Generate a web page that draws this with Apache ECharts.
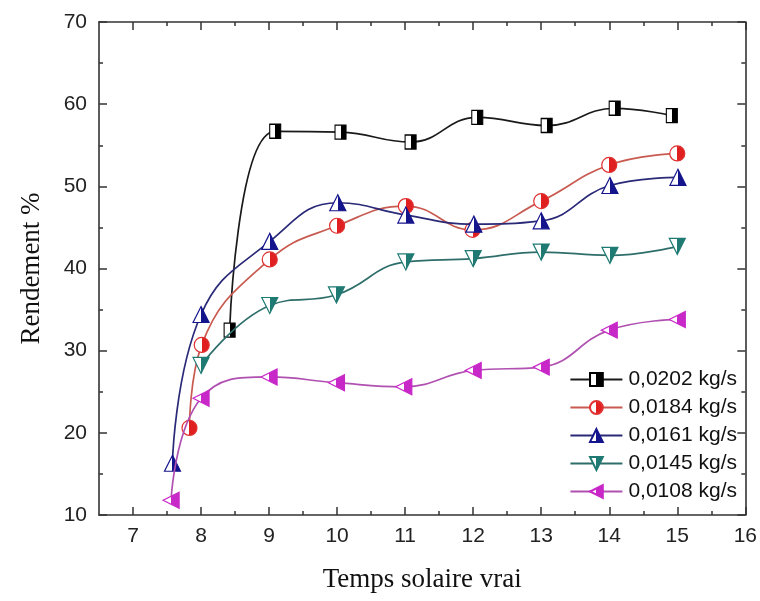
<!DOCTYPE html>
<html><head><meta charset="utf-8">
<script src="https://cdn.jsdelivr.net/npm/echarts@6/dist/echarts.min.js"></script>
<style>html,body{margin:0;padding:0;background:#fff}#c{width:760px;height:601px}</style>
</head><body><div id="c"></div>
<script>
// Data
const names = ['0,0202 kg/s', '0,0184 kg/s', '0,0161 kg/s', '0,0145 kg/s', '0,0108 kg/s'];
const x0202 = [8.42, 9.09, 10.05, 11.08, 12.06, 13.08, 14.08, 14.92];
const y0202 = [32.5, 56.7, 56.6, 55.4, 58.4, 57.4, 59.5, 58.6];
const x0184 = [7.83, 8.01, 9.01, 10.0, 11.01, 11.99, 13.0, 14.0, 15.0];
const y0184 = [20.6, 30.7, 41.1, 45.2, 47.6, 44.7, 48.2, 52.6, 54.0];
const x0161 = [7.58, 8.0, 9.01, 10.01, 11.01, 12.01, 13.0, 14.01, 15.01];
const y0161 = [16.3, 34.4, 43.3, 48.0, 46.5, 45.4, 45.8, 50.1, 51.1];
const x0145 = [8.0, 9.01, 9.99, 11.01, 12.0, 13.0, 14.01, 15.0];
const y0145 = [28.2, 35.5, 36.8, 40.8, 41.2, 42.0, 41.6, 42.7];
const x0108 = [7.56, 8.0, 9.0, 9.99, 10.98, 12.0, 13.0, 14.0, 15.0];
const y0108 = [11.8, 24.2, 26.8, 26.1, 25.6, 27.6, 28.0, 32.5, 33.8];
const xTicks = [7, 8, 9, 10, 11, 12, 13, 14, 15, 16];
const xMinorTicks = [7.5, 8.5, 9.5, 10.5, 11.5, 12.5, 13.5, 14.5, 15.5];

function pairs(xs, ys) { return xs.map((x, i) => [x, ys[i]]); }
function half(c) {
  return new echarts.graphic.LinearGradient(0, 0, 1, 0, [
    {offset: 0, color: '#ffffff'}, {offset: 0.5, color: '#ffffff'},
    {offset: 0.5, color: c}, {offset: 1, color: c}]);
}
const cfg = [
  {x: x0202, y: y0202, sym: 'rect', size: [11, 14], mc: '#000000', lc: '#1a1a1a', bc: '#000000'},
  {x: x0184, y: y0184, sym: 'circle', size: 15, mc: '#e02020', lc: '#c85a50', bc: '#e03030'},
  {x: x0161, y: y0161, sym: 'triangle', size: 16, mc: '#14148c', lc: '#2a2a78', bc: '#14148c'},
  {x: x0145, y: y0145, sym: 'path://M0,0 L10,0 L5,10 Z', size: 16, mc: '#1e7a72', lc: '#2e6e6a', bc: '#1e7a72'},
  {x: x0108, y: y0108, sym: 'path://M10,0 L10,10 L0,5 Z', size: 16, mc: '#c828c8', lc: '#b050b0', bc: '#c828c8'}
];
const series = cfg.map((c, i) => ({
  name: names[i], type: 'line', xAxisIndex: 0, yAxisIndex: 0,
  data: pairs(c.x, c.y), smooth: 0.45,
  symbol: c.sym, symbolSize: c.size, showSymbol: true,
  lineStyle: {color: c.lc, width: 1.7},
  itemStyle: {color: half(c.mc), borderColor: c.bc, borderWidth: 1.2},
  z: 3 + i
}));

const labelFont = {fontFamily: 'Liberation Sans, Arial, sans-serif', fontSize: 21, color: '#222'};
const axisLine = {show: true, lineStyle: {color: '#333', width: 1.6}};
const titleFont = {fontFamily: 'Liberation Serif, Times New Roman, serif', fontSize: 27, color: '#111'};
const chart = echarts.init(document.getElementById('c'), null, {renderer: 'canvas'});
chart.setOption({
  backgroundColor: '#fff',
  animation: false,
  grid: {left: 99, right: 7, top: 22, bottom: 86, containLabel: false},
  legend: {
    right: 18, top: 364, orient: 'vertical', itemWidth: 52, itemHeight: 16, itemGap: 7,
    textStyle: {fontFamily: 'Liberation Sans, Arial, sans-serif', fontSize: 21, lineHeight: 21, color: '#111', padding: [0, 0, 0, 1]},
    data: names
  },
  xAxis: [
    {type: 'value', position: 'bottom', min: 6.5, max: 16,
     name: 'Temps solaire vrai', nameLocation: 'middle', nameGap: 51,
     nameTextStyle: titleFont,
     axisLine: axisLine, splitLine: {show: false},
     axisTick: {show: true, inside: true, length: 8, customValues: xTicks, lineStyle: {color: '#333', width: 1.5}},
     axisLabel: Object.assign({margin: 11, customValues: xTicks}, labelFont)},
    {type: 'value', position: 'bottom', min: 6.5, max: 16,
     axisLine: {show: false}, splitLine: {show: false},
     axisTick: {show: true, inside: true, length: 4, customValues: xMinorTicks, lineStyle: {color: '#333', width: 1.5}},
     axisLabel: {show: false}},
    {type: 'value', position: 'top', min: 6.5, max: 16,
     axisLine: axisLine, splitLine: {show: false},
     axisTick: {show: true, inside: true, length: 8, customValues: xTicks, lineStyle: {color: '#333', width: 1.5}},
     axisLabel: {show: false}},
    {type: 'value', position: 'top', min: 6.5, max: 16,
     axisLine: {show: false}, splitLine: {show: false},
     axisTick: {show: true, inside: true, length: 4, customValues: xMinorTicks, lineStyle: {color: '#333', width: 1.5}},
     axisLabel: {show: false}}
  ],
  yAxis: [
    {type: 'value', position: 'left', min: 10, max: 70, interval: 10,
     name: 'Rendement %', nameLocation: 'middle', nameGap: 54, nameRotate: 90,
     nameTextStyle: titleFont,
     axisLine: axisLine, splitLine: {show: false},
     axisTick: {show: true, inside: true, length: 8, lineStyle: {color: '#333', width: 1.5}},
     minorTick: {show: true, splitNumber: 2, length: 4, lineStyle: {color: '#333', width: 1.5}},
     axisLabel: Object.assign({margin: 12}, labelFont)},
    {type: 'value', position: 'right', min: 10, max: 70, interval: 10,
     axisLine: axisLine, splitLine: {show: false},
     axisTick: {show: true, inside: true, length: 8, lineStyle: {color: '#333', width: 1.5}},
     minorTick: {show: true, splitNumber: 2, length: 4, lineStyle: {color: '#333', width: 1.5}},
     axisLabel: {show: false}}
  ],
  series: series
});
</script>
</body></html>
